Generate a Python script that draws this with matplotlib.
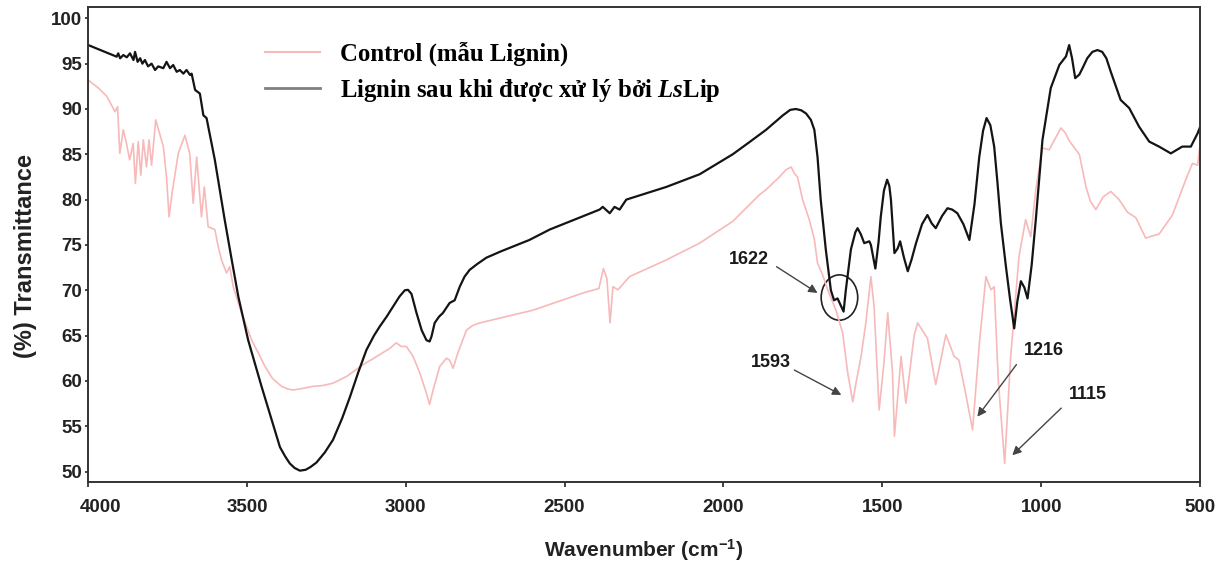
import matplotlib
matplotlib.use("Agg")
import matplotlib.pyplot as plt
from matplotlib.lines import Line2D
from matplotlib.patches import Ellipse
from matplotlib.font_manager import FontProperties
from matplotlib.transforms import ScaledTranslation

plt.rcParams['font.family'] = ['Liberation Sans', 'DejaVu Sans']
plt.rcParams['mathtext.fontset'] = 'custom'
plt.rcParams['mathtext.it'] = 'Liberation Serif:italic:bold'
plt.rcParams['mathtext.rm'] = 'Liberation Sans:bold'

# Phổ FTIR của lignin sau xử lý (đường đen)
wn_lip = [4000, 3910, 3905, 3899, 3889, 3878, 3868, 3857, 3852, 3844, 3836, 3829,
          3821, 3811, 3800, 3789, 3779, 3763, 3753, 3742, 3732, 3721, 3711, 3700,
          3690, 3679, 3674, 3663, 3648, 3637, 3627, 3601, 3570, 3548, 3527, 3496,
          3454, 3422, 3396, 3380, 3365, 3350, 3333, 3315, 3300, 3281, 3255, 3229,
          3200, 3176, 3150, 3124, 3100, 3082, 3060, 3040, 3020, 3003, 2993, 2982,
          2967, 2950, 2935, 2925, 2919, 2909, 2895, 2883, 2862, 2846, 2830, 2815,
          2799, 2775, 2746, 2700, 2650, 2611, 2547, 2390, 2380, 2358, 2343, 2327,
          2306, 2180, 2075, 1971, 1920, 1866, 1813, 1790, 1772, 1755, 1740, 1725,
          1714, 1704, 1694, 1678, 1662, 1652, 1641, 1622, 1615, 1599, 1585, 1578,
          1568, 1557, 1541, 1536, 1522, 1512, 1505, 1495, 1485, 1478, 1473, 1462,
          1452, 1444, 1432, 1420, 1408, 1394, 1375, 1358, 1345, 1332, 1312, 1295,
          1280, 1264, 1245, 1226, 1210, 1195, 1183, 1172, 1160, 1148, 1138, 1127,
          1111, 1098, 1085, 1075, 1064, 1053, 1043, 1030, 1017, 996, 970, 943, 922,
          912, 903, 893, 880, 870, 855, 839, 823, 808, 795, 781, 765, 750, 723, 692,
          660, 629, 592, 556, 529, 508, 500]
t_lip = [97.06, 95.77, 96.14, 95.59, 95.95, 95.7, 96.14, 95.4, 96.3, 95.2, 95.6, 95.0,
         95.4, 94.7, 95.0, 94.3, 94.7, 94.5, 95.2, 94.5, 94.85, 94.1, 94.3, 93.9,
         94.3, 93.75, 93.9, 92.1, 91.7, 89.3, 89.0, 84.4, 77.8, 73.4, 69.3, 64.5,
         59.4, 55.7, 52.7, 51.7, 50.9, 50.4, 50.1, 50.2, 50.5, 51.0, 52.1, 53.5,
         55.9, 58.2, 60.9, 63.4, 65.0, 66.0, 67.1, 68.2, 69.3, 70.0, 70.05, 69.6,
         67.6, 65.6, 64.5, 64.35, 64.9, 66.4, 67.1, 67.5, 68.6, 68.9, 70.4, 71.5,
         72.25, 72.9, 73.6, 74.3, 75.0, 75.55, 76.7, 78.9, 79.2, 78.5, 79.2, 78.9,
         80.0, 81.4, 82.8, 85.0, 86.3, 87.7, 89.3, 89.9, 90.0, 89.85, 89.5, 88.8,
         87.7, 84.7, 80.0, 74.5, 70.0, 68.9, 69.1, 67.65, 70.0, 74.5, 76.4, 76.85,
         76.2, 75.2, 75.4, 75.0, 72.4, 75.3, 78.1, 81.0, 82.2, 81.5, 80.0, 74.1,
         74.6, 75.4, 73.6, 72.1, 73.4, 75.2, 77.3, 78.3, 77.4, 76.85, 78.2, 79.05,
         78.9, 78.5, 77.3, 75.55, 79.5, 84.7, 87.6, 89.0, 88.2, 85.85, 82.0, 77.4,
         72.6, 69.0, 65.8, 68.8, 71.0, 70.3, 69.1, 72.8, 77.8, 86.6, 92.3, 94.85, 95.8,
         97.05, 95.6, 93.4, 93.8, 94.5, 95.6, 96.3, 96.5, 96.3, 95.6, 94.1, 92.5, 91.0,
         90.1, 88.05, 86.4, 85.85, 85.1, 85.85, 85.85, 87.3, 88.0]

# Phổ FTIR của mẫu đối chứng (đường hồng)
wn_ctrl = [4000, 3967, 3941, 3915, 3907, 3900, 3889, 3879, 3869, 3858, 3851, 3842,
           3834, 3826, 3816, 3808, 3800, 3787, 3763, 3753, 3745, 3734, 3716, 3695,
           3680, 3669, 3658, 3643, 3634, 3622, 3601, 3590, 3580, 3564, 3554, 3543,
           3517, 3485, 3460, 3443, 3420, 3391, 3370, 3354, 3320, 3292, 3260, 3229,
           3186, 3134, 3082, 3050, 3030, 3014, 2998, 2977, 2956, 2935, 2925, 2914,
           2893, 2872, 2862, 2851, 2836, 2820, 2809, 2790, 2767, 2683, 2600, 2442,
           2392, 2378, 2367, 2357, 2348, 2332, 2296, 2180, 2075, 1971, 1888, 1866,
           1824, 1803, 1787, 1777, 1767, 1751, 1730, 1714, 1704, 1688, 1672, 1646,
           1625, 1609, 1593, 1583, 1567, 1552, 1536, 1526, 1510, 1495, 1483, 1468,
           1462, 1441, 1426, 1400, 1389, 1358, 1332, 1300, 1274, 1259, 1240, 1216,
           1195, 1174, 1158, 1148, 1135, 1115, 1096, 1070, 1049, 1033, 1017, 996,
           975, 955, 938, 925, 910, 880, 859, 845, 828, 805, 781, 755, 728, 702,
           671, 650, 629, 587, 545, 524, 508, 500]
t_ctrl = [93.2, 92.3, 91.4, 89.7, 90.25, 85.1, 87.7, 86.2, 84.4, 86.2, 81.8, 86.4,
          82.7, 86.6, 83.6, 86.6, 83.8, 88.8, 85.85, 82.5, 78.1, 81.1, 85.1, 87.1,
          85.1, 79.6, 84.7, 78.1, 81.4, 77.0, 76.7, 74.8, 73.35, 71.9, 72.6, 70.4,
          67.5, 64.5, 62.8, 61.6, 60.3, 59.4, 59.1, 59.0, 59.2, 59.4, 59.5, 59.75,
          60.5, 61.8, 62.9, 63.6, 64.2, 63.8, 63.8, 62.7, 60.9, 58.65, 57.4, 59.0,
          61.6, 62.5, 62.3, 61.4, 63.1, 64.6, 65.6, 66.1, 66.4, 67.1, 67.8, 69.7,
          70.2, 72.4, 71.3, 66.4, 70.4, 70.05, 71.5, 73.35, 75.2, 77.6, 80.5, 81.1,
          82.5, 83.3, 83.6, 82.9, 82.5, 80.0, 77.8, 75.6, 73.0, 71.7, 70.05, 67.8,
          65.3, 60.9, 57.7, 59.75, 62.7, 66.4, 71.5, 68.2, 56.8, 62.0, 67.5, 60.9,
          53.9, 62.7, 57.55, 65.0, 66.4, 64.7, 59.6, 65.1, 62.7, 62.3, 59.0, 54.6,
          64.0, 71.5, 70.05, 70.4, 60.0, 50.9, 62.7, 73.7, 77.8, 75.9, 81.1, 85.7,
          85.5, 86.8, 87.9, 87.4, 86.4, 85.0, 81.4, 79.8, 78.9, 80.3, 80.9, 80.0,
          78.6, 78.0, 75.75, 76.0, 76.2, 78.3, 82.2, 84.0, 83.8, 86.0]

# Các đỉnh được chú thích: (nhãn, vị trí chữ, đầu mũi tên, đuôi mũi tên)
peak_labels = ['1622', '1593', '1216', '1115']
label_xy = [(1921, 73.35), (1852, 62.0), (993, 63.4), (852, 58.45)]
arrow_tail = [(1833, 72.6), (1777, 61.2), (1078, 61.8), (937, 57.0)]
arrow_head = [(1704, 69.7), (1629, 58.45), (1201, 56.05), (1091, 51.8)]

fig = plt.figure(figsize=(12.16, 5.69), dpi=100)
ax = fig.add_axes([0.0724, 0.1529, 0.9145, 0.8348])

ax.plot(wn_ctrl, t_ctrl, color='#f7b9b9', lw=1.2)
ax.plot(wn_lip, t_lip, color='#141414', lw=1.6)

ax.set_xlim(4000, 500)
ax.set_ylim(48.85, 101.25)
ax.set_xticks(range(4000, 499, -500))
ax.set_yticks(range(50, 101, 5))
ax.tick_params(axis='both', direction='out', width=1.2, labelsize=13.5,
               colors='#222222')
ax.tick_params(axis='x', length=3.5, pad=9)
ax.tick_params(axis='y', length=2.5, pad=2)
for lab in ax.get_xticklabels() + ax.get_yticklabels():
    lab.set_fontweight('bold')
# nhãn 4000 đặt lệch vào trong một chút
first = ax.get_xticklabels()[0]
first.set_transform(first.get_transform() + ScaledTranslation(0.12, 0, fig.dpi_scale_trans))
for sp in ax.spines.values():
    sp.set_linewidth(1.4)
    sp.set_color('#333333')

ax.set_ylabel('(%) Transmittance', fontsize=17, fontweight='bold', color='#222222')
ax.yaxis.set_label_coords(-0.046, 0.476)
ax.set_xlabel(r'Wavenumber (cm$^{\mathrm{-1}}$)', fontsize=15, fontweight='bold',
              color='#222222')
ax.xaxis.set_label_coords(0.5, -0.118)

# Vòng tròn đánh dấu vùng 1622
ax.add_patch(Ellipse((1635, 69.2), 115, 5.0, fill=False, edgecolor='#222222', lw=1.2))

for lab, txy, tail, head in zip(peak_labels, label_xy, arrow_tail, arrow_head):
    ax.text(txy[0], txy[1], lab, ha='center', va='center', fontsize=13,
            fontweight='bold', color='#1a1a1a')
    ax.annotate('', xy=head, xytext=tail,
                arrowprops=dict(arrowstyle='-|>', color='#444444', lw=1.0,
                                mutation_scale=13, shrinkA=0, shrinkB=0))

handles = [Line2D([], [], color='#f7b9b9', lw=1.5),
           Line2D([], [], color='#808080', lw=2.0)]
labels = ['Control (mẫu Lignin)', 'Lignin sau khi được xử lý bởi $Ls$Lip']
leg_font = FontProperties(family=['Liberation Serif', 'DejaVu Serif'], weight='bold', size=17.8)
ax.legend(handles, labels, loc='upper left', bbox_to_anchor=(0.159, 0.928),
          frameon=False, prop=leg_font, handlelength=2.25, handletextpad=0.8,
          labelspacing=0.45, borderpad=0, borderaxespad=0)

fig.savefig('out.png', dpi=100)
